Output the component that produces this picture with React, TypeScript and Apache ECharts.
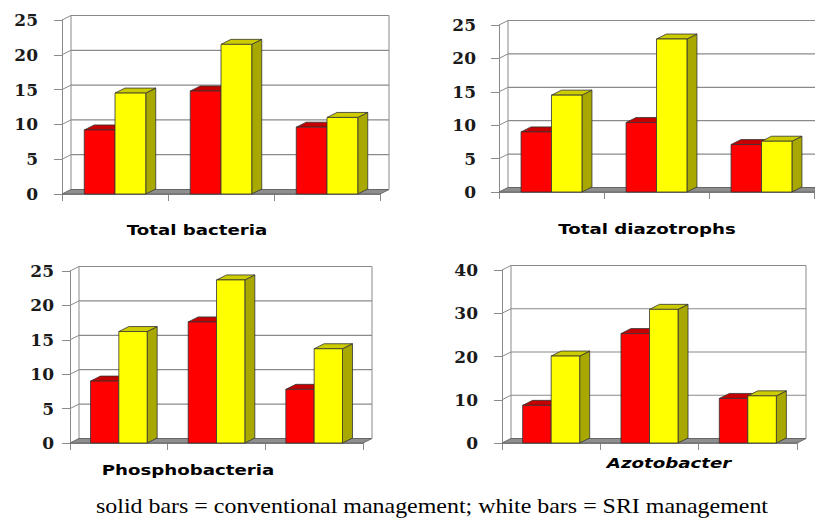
import React, { useEffect, useRef } from "react";
import * as echarts from "echarts";

// ---- data ----
const categories = ["1", "2", "3"];
const ticks25 = [0, 5, 10, 15, 20, 25];
const ticks40 = [0, 10, 20, 30, 40];

const bacteriaConventional = [9.2, 14.8, 9.6];
const bacteriaSRI = [14.5, 21.5, 11.0];
const diazotrophsConventional = [9.0, 10.4, 7.1];
const diazotrophsSRI = [14.5, 22.9, 7.6];
const phosphoConventional = [9.0, 17.6, 7.8];
const phosphoSRI = [16.2, 23.7, 13.7];
const azotoConventional = [8.7, 25.3, 10.3];
const azotoSRI = [20.1, 30.9, 10.9];

const panelTitles = ["Total bacteria", "Total diazotrophs", "Phosphobacteria", "Azotobacter"];
const caption = "solid bars = conventional management; white bars = SRI management";

// ---- styles ----
const GRID = "#8a8a8a";
const RED = { front: "#ff0000", top: "#c40000", side: "#990000" };
const YEL = { front: "#ffff00", top: "#cccc00", side: "#a8a800" };
const EDGE = "#333333";
const WDX = 9;
const WDY = -4.5;
const BDX = 10;
const BDY = -5;
const BAR_RATIO = 0.29;

const renderWall = (params: any, api: any) => {
  const cs = params.coordSys;
  const v = api.value(1);
  const y = api.coord([0, v])[1];
  const xL = cs.x;
  const xR = cs.x + cs.width;
  const yTop = cs.y;
  const yBot = cs.y + cs.height;
  const children: any[] = [];
  if (params.dataIndex === 0) {
    children.push({
      type: "line",
      shape: { x1: xL + WDX, y1: yTop + WDY, x2: xL + WDX, y2: yBot + WDY },
      style: { stroke: GRID, lineWidth: 1 },
    });
    children.push({
      type: "line",
      shape: { x1: xR + WDX, y1: yTop + WDY, x2: xR + WDX, y2: yBot + WDY },
      style: { stroke: GRID, lineWidth: 1 },
    });
    children.push({
      type: "polygon",
      shape: {
        points: [
          [xL, yBot],
          [xL + WDX, yBot + WDY],
          [xR + WDX, yBot + WDY],
          [xR, yBot],
        ],
      },
      style: { fill: "#8e8e8e", stroke: "#666666", lineWidth: 1 },
    });
  } else {
    children.push({
      type: "line",
      shape: { x1: xL + WDX, y1: y + WDY, x2: xR + WDX, y2: y + WDY },
      style: { stroke: GRID, lineWidth: 1.2 },
    });
    children.push({
      type: "line",
      shape: { x1: xL, y1: y, x2: xL + WDX, y2: y + WDY },
      style: { stroke: GRID, lineWidth: 1 },
    });
  }
  return { type: "group", children };
};

const renderBars = (params: any, api: any) => {
  const i = api.value(0);
  const vals = [api.value(1), api.value(2)];
  const base = api.coord([i, 0]);
  const band = api.size([1, 0])[0];
  const bw = band * BAR_RATIO;
  const cx = base[0];
  const y0 = base[1];
  const children: any[] = [];
  const specs: [number, number, any][] = [
    [vals[0], cx - bw, RED],
    [vals[1], cx, YEL],
  ];
  specs.forEach(([v, x0, col]) => {
    const yt = api.coord([i, v])[1];
    const x1 = x0 + bw;
    children.push({
      type: "polygon",
      shape: { points: [[x1, yt], [x1 + BDX, yt + BDY], [x1 + BDX, y0 + BDY], [x1, y0]] },
      style: { fill: col.side, stroke: EDGE, lineWidth: 0.8 },
    });
    children.push({
      type: "polygon",
      shape: { points: [[x0, yt], [x0 + BDX, yt + BDY], [x1 + BDX, yt + BDY], [x1, yt]] },
      style: { fill: col.top, stroke: EDGE, lineWidth: 0.8 },
    });
    children.push({
      type: "rect",
      shape: { x: x0, y: yt, width: bw, height: y0 - yt },
      style: { fill: col.front, stroke: EDGE, lineWidth: 0.8 },
    });
  });
  return { type: "group", children };
};

const panels = [
  { grid: { left: 62, top: 20, width: 318, height: 174 }, max: 25, interval: 5, ticks: ticks25, conv: bacteriaConventional, sri: bacteriaSRI, margin: 24 },
  { grid: { left: 499, top: 25, width: 315, height: 167 }, max: 25, interval: 5, ticks: ticks25, conv: diazotrophsConventional, sri: diazotrophsSRI, margin: 23 },
  { grid: { left: 70, top: 271, width: 293, height: 172 }, max: 25, interval: 5, ticks: ticks25, conv: phosphoConventional, sri: phosphoSRI, margin: 16 },
  { grid: { left: 502, top: 270, width: 295, height: 173 }, max: 40, interval: 10, ticks: ticks40, conv: azotoConventional, sri: azotoSRI, margin: 24 },
];

const titlePos = [
  { x: 197, y: 230, italic: false },
  { x: 647, y: 229, italic: false },
  { x: 188, y: 470, italic: false },
  { x: 669, y: 463, italic: true },
];

export default function App() {
  const ref = useRef<HTMLDivElement>(null);
  useEffect(() => {
    document.body.style.margin = "0";
    if (!ref.current) return;
    const chart = echarts.init(ref.current, null, { renderer: "svg" });
    const grids: any[] = [];
    const xAxes: any[] = [];
    const yAxes: any[] = [];
    const series: any[] = [];
    panels.forEach((p, k) => {
      grids.push({ ...p.grid, containLabel: false });
      xAxes.push({
        type: "category",
        gridIndex: k,
        data: categories,
        boundaryGap: true,
        axisLine: { show: true, lineStyle: { color: GRID, width: 1 } },
        axisTick: { show: true, length: 7, alignWithLabel: false, lineStyle: { color: GRID } },
        axisLabel: { show: false },
        splitLine: { show: false },
      });
      yAxes.push({
        type: "value",
        gridIndex: k,
        min: 0,
        max: p.max,
        interval: p.interval,
        axisLine: { show: true, lineStyle: { color: GRID, width: 1 } },
        axisTick: { show: true, length: 8, lineStyle: { color: GRID } },
        axisLabel: {
          show: true,
          margin: p.margin,
          fontFamily: "DejaVu Serif",
          fontWeight: "bold",
          fontSize: 17,
          color: "#1a1a1a",
          padding: [5, 0, 0, 0],
        },
        splitLine: { show: false },
      });
      series.push({
        type: "custom",
        name: "wall" + k,
        xAxisIndex: k,
        yAxisIndex: k,
        z: 1,
        clip: false,
        silent: true,
        renderItem: renderWall,
        data: p.ticks.map((v) => [0, v]),
      });
      series.push({
        type: "custom",
        name: panelTitles[k],
        xAxisIndex: k,
        yAxisIndex: k,
        z: 3,
        clip: false,
        renderItem: renderBars,
        encode: { x: 0, y: [1, 2] },
        data: categories.map((_, i) => [i, p.conv[i], p.sri[i]]),
      });
    });

    const graphics: any[] = panelTitles.map((t, k) => ({
      type: "text",
      x: titlePos[k].x,
      y: titlePos[k].y,
      scaleX: 1.3,
      style: {
        text: t,
        x: 0,
        y: 0,
        fill: "#000",
        font: `${titlePos[k].italic ? "italic " : ""}bold 14px "DejaVu Sans"`,
        align: "center",
        verticalAlign: "middle",
      },
    }));
    graphics.push({
      type: "text",
      x: 432,
      y: 506,
      scaleX: 1.14,
      style: {
        text: caption,
        x: 0,
        y: 0,
        fill: "#000",
        font: '21px "Liberation Serif"',
        align: "center",
        verticalAlign: "middle",
      },
    });

    chart.setOption({
      animation: false,
      backgroundColor: "#ffffff",
      grid: grids,
      xAxis: xAxes,
      yAxis: yAxes,
      series,
      graphic: graphics,
    });
    return () => chart.dispose();
  }, []);
  return <div ref={ref} style={{ width: 815, height: 519 }} />;
}
